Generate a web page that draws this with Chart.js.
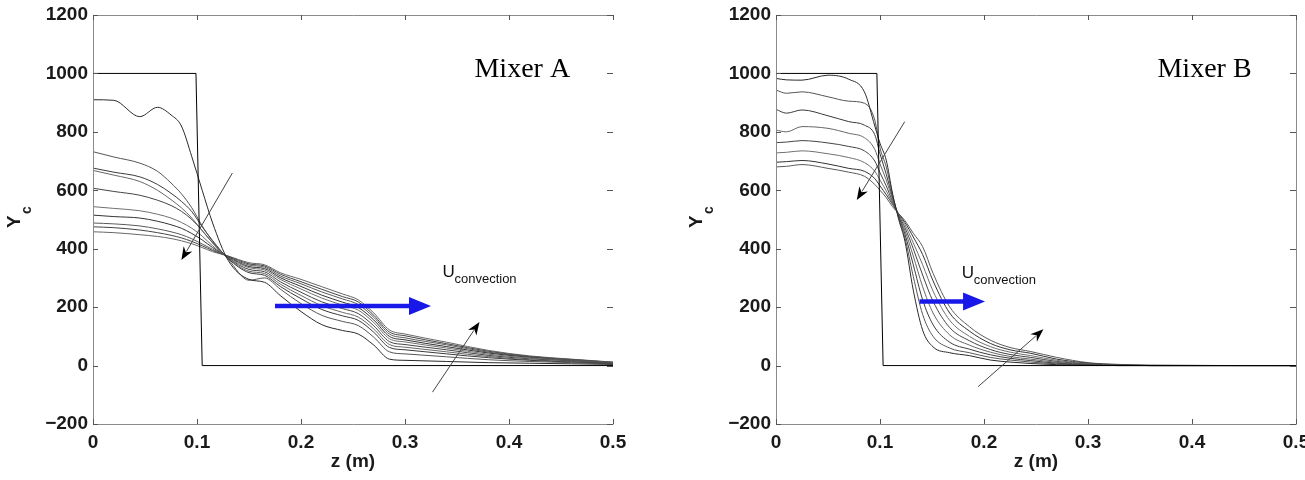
<!DOCTYPE html>
<html>
<head>
<meta charset="utf-8">
<script src="https://cdn.jsdelivr.net/npm/chart.js@4.4.1/dist/chart.umd.min.js"></script>
<style>
  html, body { margin: 0; padding: 0; background: #fff; }
  #wrap { position: relative; width: 1305px; height: 480px; overflow: hidden; }
  canvas { position: absolute; top: 0; }
  #cA { left: 0; }
  #cB { left: 652px; }
</style>
</head>
<body>
<div id="wrap">
  <canvas id="cA" width="652" height="480"></canvas>
  <canvas id="cB" width="653" height="480"></canvas>
</div>
<script>
// --- data: Mixer A (z in m, Yc) ---
const zA = [0, 0.02, 0.045, 0.062, 0.075, 0.085, 0.095, 0.105, 0.115, 0.13, 0.15, 0.165, 0.18, 0.2, 0.22, 0.24, 0.255, 0.27, 0.285, 0.3, 0.34, 0.38, 0.42, 0.46, 0.5];
const a0 = [910, 908, 852, 884, 858, 820, 715, 600, 488, 360, 295, 285, 240, 185, 140, 120, 108, 70, 22, 18, 14, 10, 8, 6, 4];
const a1 = [732, 714, 693, 665, 625, 588, 540, 478, 425, 364, 292, 300, 262, 212, 172, 151, 137, 97, 47, 40, 30, 20, 14, 10, 6];
const a2 = [676, 662, 646, 620, 590, 562, 527, 475, 428, 366, 318, 309, 271, 229, 192, 170, 155, 114, 62, 54, 40, 27, 18, 12, 7];
const a3 = [668, 652, 630, 600, 568, 540, 505, 462, 420, 367, 323, 315, 279, 240, 205, 182, 166, 125, 72, 63, 47, 31, 20, 14, 8];
const a4 = [607, 596, 583, 566, 548, 528, 500, 462, 420, 369, 329, 321, 287, 251, 218, 195, 178, 136, 82, 72, 54, 35, 23, 16, 9];
const a5 = [544, 538, 530, 518, 505, 490, 470, 443, 410, 370, 335, 327, 295, 262, 231, 207, 190, 147, 92, 81, 60, 39, 26, 17, 10];
const a6 = [515, 510, 505, 494, 482, 470, 452, 430, 404, 372, 339, 332, 301, 271, 241, 217, 199, 156, 100, 88, 65, 43, 28, 18, 10];
const a7 = [488, 485, 478, 468, 458, 448, 434, 416, 398, 373, 344, 337, 307, 280, 252, 228, 209, 165, 108, 95, 71, 46, 30, 20, 11];
const a8 = [475, 472, 464, 455, 446, 437, 425, 410, 394, 374, 348, 341, 313, 287, 261, 236, 218, 172, 115, 102, 75, 49, 31, 21, 11];
const a9 = [458, 455, 448, 442, 435, 427, 417, 404, 390, 375, 352, 345, 318, 295, 270, 245, 225, 180, 122, 108, 80, 52, 33, 22, 12];
const stepAz = [0, 0.099, 0.105, 0.5];
const stepAy = [1000, 1000, 0, 0];

// --- data: Mixer B ---
const zB = [0, 0.01, 0.025, 0.05, 0.07, 0.085, 0.095, 0.1, 0.106, 0.112, 0.118, 0.124, 0.132, 0.141, 0.151, 0.167, 0.186, 0.206, 0.225, 0.245, 0.27, 0.3, 0.33, 0.36, 0.5];
const b0 = [983, 978, 977, 994, 980, 937, 820, 761, 703, 590, 500, 425, 258, 121, 64, 44, 34, 19, 12, 7, 3, 1, 0, 0, 0];
const b1 = [943, 932, 937, 920, 905, 898, 840, 745, 680, 585, 505, 437, 305, 175, 100, 60, 44, 28, 19, 12, 6, 2, 0, 0, 0];
const b2 = [877, 864, 875, 855, 835, 823, 790, 725, 655, 578, 510, 450, 345, 225, 140, 80, 56, 37, 25, 17, 8, 3, 1, 0, 0];
const b3 = [806, 800, 818, 812, 795, 780, 740, 690, 635, 570, 512, 462, 375, 270, 180, 105, 70, 46, 31, 22, 11, 4, 1, 0, 0];
const b4 = [763, 765, 770, 762, 750, 735, 700, 660, 615, 562, 515, 472, 400, 310, 220, 130, 85, 55, 38, 28, 14, 5, 2, 0, 0];
const b5 = [728, 730, 735, 725, 712, 695, 665, 635, 598, 556, 518, 482, 420, 345, 255, 155, 100, 65, 46, 34, 18, 6, 2, 0, 0];
const b6 = [696, 698, 702, 690, 675, 665, 640, 615, 585, 552, 519, 490, 440, 380, 290, 180, 118, 76, 54, 42, 22, 8, 3, 1, 0];
const b7 = [680, 682, 688, 675, 662, 648, 620, 600, 575, 544, 520, 496, 453, 407, 316, 201, 133, 87, 62, 48, 28, 10, 4, 1, 0];
const stepBz = [0, 0.097, 0.103, 0.5];
const stepBy = [1000, 1000, 0, 0];

// axis ticks
const xTicks = [0, 0.1, 0.2, 0.3, 0.4, 0.5];
const yTicks = [-200, 0, 200, 400, 600, 800, 1000, 1200];

// annotations (data coordinates)
const arrowsA = [
  { from: [0.134, 659], to: [0.085, 361], blue: false },
  { from: [0.3264, -91], to: [0.3716, 149], blue: false },
  { from: [0.175, 204], to: [0.325, 204], blue: true }
];
const arrowsB = [
  { from: [0.1238, 835], to: [0.0777, 567], blue: false },
  { from: [0.1944, -72], to: [0.2571, 124], blue: false },
  { from: [0.138, 219], to: [0.201, 219], blue: true }
];
const uLabelA = [0.336, 303];
const uLabelB = [0.1787, 300];
const titlePos = [0.3668, 988];

const greys = ['#2a2a2a', '#555', '#3a3a3a', '#666', '#444', '#707070', '#333', '#5a5a5a', '#444', '#666'];
const SANS = "'Liberation Sans', Arial, sans-serif";

function arrow(ctx, x1, y1, x2, y2, blue) {
  const ang = Math.atan2(y2 - y1, x2 - x1);
  const len = blue ? 22 : 13;
  const hw = blue ? 9 : 5;
  const bx = x2 - len * Math.cos(ang), by = y2 - len * Math.sin(ang);
  ctx.strokeStyle = blue ? '#1818e8' : '#444';
  ctx.lineWidth = blue ? 4.5 : 1;
  ctx.beginPath();
  ctx.moveTo(x1, y1);
  ctx.lineTo(bx + 3 * Math.cos(ang), by + 3 * Math.sin(ang));
  ctx.stroke();
  const nx = -Math.sin(ang), ny = Math.cos(ang);
  const notch = blue ? 0 : 4;
  ctx.fillStyle = blue ? '#1818e8' : '#000';
  ctx.beginPath();
  ctx.moveTo(x2, y2);
  ctx.lineTo(bx + nx * hw, by + ny * hw);
  ctx.lineTo(bx + notch * Math.cos(ang), by + notch * Math.sin(ang));
  ctx.lineTo(bx - nx * hw, by - ny * hw);
  ctx.closePath();
  ctx.fill();
}

const frame = {
  id: 'frame',
  afterDatasetsDraw(chart) {
    const o = chart.options.plugins.frame;
    const { ctx, chartArea: a, scales: { x, y } } = chart;
    ctx.save();
    // box
    ctx.strokeStyle = '#8a8a8a';
    ctx.lineWidth = 1;
    ctx.beginPath();
    ctx.moveTo(a.right + 0.5, a.top + 0.5);
    ctx.lineTo(a.left + 0.5, a.top + 0.5);
    ctx.lineTo(a.left + 0.5, a.bottom + 0.5);
    ctx.lineTo(a.right + 0.5, a.bottom + 0.5);
    if (o.rightBorder) ctx.lineTo(a.right + 0.5, a.top + 0.5);
    ctx.stroke();
    // inward ticks
    ctx.strokeStyle = '#555';
    ctx.beginPath();
    xTicks.forEach(v => {
      const px = Math.round(x.getPixelForValue(v)) + 0.5;
      ctx.moveTo(px, a.bottom); ctx.lineTo(px, a.bottom - 5);
      ctx.moveTo(px, a.top); ctx.lineTo(px, a.top + 5);
    });
    yTicks.forEach(v => {
      const py = Math.round(y.getPixelForValue(v)) + 0.5;
      ctx.moveTo(a.left, py); ctx.lineTo(a.left + 5, py);
      ctx.moveTo(a.right, py); ctx.lineTo(a.right - 6, py);
    });
    ctx.stroke();
    // arrows
    o.arrows.forEach(ar => {
      arrow(ctx, x.getPixelForValue(ar.from[0]), y.getPixelForValue(ar.from[1]),
        x.getPixelForValue(ar.to[0]), y.getPixelForValue(ar.to[1]), ar.blue);
    });
    // U_convection
    ctx.fillStyle = '#111';
    ctx.textBaseline = 'alphabetic';
    ctx.textAlign = 'left';
    const ux = x.getPixelForValue(o.uLabel[0]), uy = y.getPixelForValue(o.uLabel[1]);
    ctx.font = '17px ' + SANS;
    ctx.fillText('U', ux, uy);
    ctx.font = '13px ' + SANS;
    ctx.fillText('convection', ux + 12, uy + 6);
    // title
    ctx.font = "28px 'Liberation Serif', 'Times New Roman', serif";
    ctx.fillStyle = '#000';
    ctx.fillText(o.title, x.getPixelForValue(titlePos[0]), y.getPixelForValue(titlePos[1]));
    // x axis title
    ctx.font = 'bold 19px ' + SANS;
    ctx.fillStyle = '#1a1a1a';
    ctx.textAlign = 'center';
    ctx.textBaseline = 'middle';
    ctx.fillText('z (m)', (a.left + a.right) / 2, 462);
    // y axis title Y_c (rotated)
    ctx.translate(o.yTitleX, 228);
    ctx.rotate(-Math.PI / 2);
    ctx.textAlign = 'left';
    ctx.textBaseline = 'alphabetic';
    ctx.fillText('Y', 0, 0);
    ctx.font = 'bold 14px ' + SANS;
    ctx.fillText('c', 14, 11);
    ctx.restore();
  }
};

function makeChart(id, z, curves, stepZ, stepY, opt) {
  const datasets = [{
    data: stepZ.map((v, i) => ({ x: v, y: stepY[i] })),
    borderColor: '#000', borderWidth: 1, pointRadius: 0, showLine: true
  }];
  curves.forEach((c, k) => {
    datasets.push({
      data: z.map((v, i) => ({ x: v, y: c[i] })),
      borderColor: greys[k % greys.length], borderWidth: 1, pointRadius: 0,
      showLine: true, cubicInterpolationMode: 'monotone'
    });
  });
  const tickFont = { family: SANS, size: 19, weight: 'bold' };
  return new Chart(document.getElementById(id), {
    type: 'scatter',
    data: { datasets },
    options: {
      responsive: false,
      animation: false,
      layout: { padding: { top: 15, right: opt.padRight, bottom: 0, left: 0 } },
      plugins: {
        legend: { display: false },
        tooltip: { enabled: false },
        frame: opt
      },
      scales: {
        x: {
          type: 'linear', min: 0, max: 0.5,
          grid: { display: false, drawTicks: false },
          border: { display: false },
          afterBuildTicks: s => { s.ticks = xTicks.map(v => ({ value: v })); },
          ticks: {
            font: tickFont, color: '#1a1a1a', padding: 7, maxRotation: 0, autoSkip: false,
            callback: v => String(+v.toFixed(1))
          },
          afterFit: s => { s.height = 56; s.paddingLeft = 0; s.paddingRight = 0; }
        },
        y: {
          type: 'linear', min: -200, max: 1200,
          grid: { display: false, drawTicks: false },
          border: { display: false },
          afterBuildTicks: s => { s.ticks = yTicks.map(v => ({ value: v })); },
          ticks: {
            font: tickFont, color: '#1a1a1a', padding: 5,
            callback: v => v < 0 ? '\u2212' + (-v) : String(v)
          },
          afterFit: s => { s.width = opt.yWidth; s.paddingTop = 0; s.paddingBottom = 0; }
        }
      }
    },
    plugins: [frame]
  });
}

makeChart('cA', zA, [a0, a1, a2, a3, a4, a5, a6, a7, a8, a9], stepAz, stepAy, {
  padRight: 39, yWidth: 93, rightBorder: false, arrows: arrowsA,
  uLabel: uLabelA, title: 'Mixer A', yTitleX: 20
});
makeChart('cB', zB, [b0, b1, b2, b3, b4, b5, b6, b7], stepBz, stepBy, {
  padRight: 9, yWidth: 124, rightBorder: true, arrows: arrowsB,
  uLabel: uLabelB, title: 'Mixer B', yTitleX: 50
});
</script>
</body>
</html>
